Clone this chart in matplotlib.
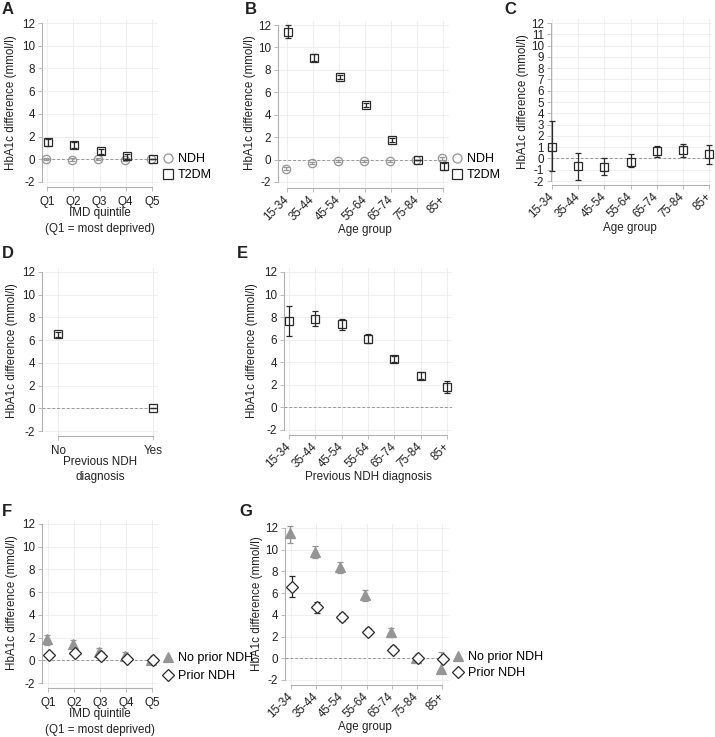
import matplotlib
matplotlib.use("Agg")
import matplotlib.pyplot as plt
from matplotlib.lines import Line2D
import numpy as np

plt.rcParams['font.family'] = ['Liberation Sans', 'DejaVu Sans']
plt.rcParams['font.size'] = 8.4

# ---------------- data ----------------
imd_q = ['Q1', 'Q2', 'Q3', 'Q4', 'Q5']
age_groups = ['15-34', '35-44', '45-54', '55-64', '65-74', '75-84', '85+']
prev_ndh = ['No', 'Yes']

# Panel A
a_ndh = [0.02, -0.02, 0.0, -0.02, 0.0]
a_ndh_lo = [-0.08, -0.12, -0.1, -0.12, 0.0]
a_ndh_hi = [0.12, 0.08, 0.1, 0.08, 0.0]
a_t2 = [1.5, 1.25, 0.7, 0.25, 0.0]
a_t2_lo = [1.2, 1.0, 0.5, 0.05, 0.0]
a_t2_hi = [1.8, 1.5, 0.9, 0.45, 0.0]

# Panel B
b_ndh = [-0.8, -0.3, -0.1, -0.1, -0.1, 0.0, 0.1]
b_ndh_lo = [-0.9, -0.4, -0.2, -0.2, -0.2, 0.0, -0.05]
b_ndh_hi = [-0.7, -0.2, 0.0, 0.0, 0.0, 0.0, 0.25]
b_t2 = [11.4, 9.1, 7.35, 4.85, 1.75, 0.0, -0.6]
b_t2_lo = [10.8, 8.8, 7.15, 4.65, 1.55, 0.0, -0.9]
b_t2_hi = [12.0, 9.4, 7.55, 5.05, 1.95, 0.0, -0.3]

# Panel C
c_val = [1.0, -0.7, -0.75, -0.3, 0.65, 0.72, 0.35]
c_lo = [-1.15, -1.9, -1.45, -0.8, 0.12, 0.15, -0.45]
c_hi = [3.3, 0.5, 0.05, 0.35, 1.1, 1.3, 1.15]

# Panel D
d_val = [6.5, 0.0]
d_lo = [6.3, 0.0]
d_hi = [6.7, 0.0]

# Panel E
e_val = [7.65, 7.85, 7.35, 6.1, 4.3, 2.8, 1.8]
e_lo = [6.35, 7.2, 6.9, 5.75, 4.05, 2.5, 1.3]
e_hi = [9.0, 8.55, 7.8, 6.5, 4.55, 3.15, 2.35]

# Panel F
f_np = [1.85, 1.4, 0.7, 0.35, 0.0]
f_np_lo = [1.35, 1.1, 0.35, 0.0, 0.0]
f_np_hi = [2.25, 1.75, 1.05, 0.7, 0.0]
f_p = [0.5, 0.6, 0.4, 0.08, 0.0]
f_p_lo = [0.3, 0.35, 0.05, -0.15, 0.0]
f_p_hi = [0.75, 0.85, 0.7, 0.3, 0.0]

# Panel G
g_np = [11.5, 9.8, 8.45, 5.85, 2.4, 0.0, -0.95]
g_np_lo = [10.6, 9.2, 7.9, 5.3, 2.0, 0.0, -1.4]
g_np_hi = [12.15, 10.3, 8.9, 6.25, 2.75, 0.0, 0.55]
g_p = [6.55, 4.7, 3.8, 2.45, 0.8, 0.05, -0.05]
g_p_lo = [5.65, 4.2, 3.45, 2.1, 0.5, -0.1, -0.3]
g_p_hi = [7.55, 5.2, 4.15, 2.8, 1.1, 0.2, 0.2]

YLABEL = 'HbA1c difference (mmol/l)'

# ---------------- layout helpers ----------------
W, H = 715, 737
fig = plt.figure(figsize=(W / 100, H / 100), dpi=100)

GRID = '#ececec'
SPINE = '#b0b0b0'
TXT = '#222222'
GRAY = '#959595'
DARK = '#2a2a2a'
FS = 8.4


def make_ax(spine_x, right_x, x0, x1, n, y12, ym2, bottom, yticks):
    xs = (x1 - x0) / (n - 1)
    ys = (ym2 - y12) / 14.0
    top = y12 - 4
    ax = fig.add_axes([spine_x / W, 1 - bottom / H, (right_x - spine_x) / W, (bottom - top) / H])
    ax.set_xlim((spine_x - x0) / xs, (n - 1) + (right_x - x1) / xs)
    ax.set_ylim(-2 - (bottom - ym2) / ys, 12 + (y12 - top) / ys)
    for s in ['top', 'right']:
        ax.spines[s].set_visible(False)
    ax.spines['left'].set_bounds(-2, 12)
    ax.spines['bottom'].set_bounds(0, n - 1)
    for s in ['left', 'bottom']:
        ax.spines[s].set_color(SPINE)
        ax.spines[s].set_linewidth(0.8)
    ax.set_yticks(yticks)
    ax.set_yticklabels([str(t) for t in yticks], fontsize=FS, color=TXT)
    ax.set_xticks(range(n))
    ax.tick_params(axis='both', length=3, width=0.6, color=SPINE, pad=2)
    ax.grid(True, color=GRID, linewidth=0.6)
    ax.set_axisbelow(True)
    ax.axhline(0, color='#999999', linestyle=(0, (3, 2)), linewidth=0.7, zorder=1)
    ax.set_facecolor('none')
    return ax


def set_xlabels(ax, labels, rotate):
    if rotate:
        ax.set_xticklabels(labels, rotation=45, ha='right', va='center',
                           rotation_mode='anchor', fontsize=FS, color=TXT)
        ax.tick_params(axis='x', pad=4)
    else:
        ax.set_xticklabels(labels, fontsize=FS, color=TXT)
        ax.tick_params(axis='x', pad=3.5)


def errpts(ax, x, v, lo, hi, marker, mfc, mec, ecol, ms=6, z=3):
    v = np.asarray(v); lo = np.asarray(lo); hi = np.asarray(hi)
    ax.errorbar(x, v, yerr=[v - lo, hi - v], fmt='none', ecolor=ecol, elinewidth=0.9,
                capsize=2.2, capthick=0.9, zorder=z, clip_on=False)
    ax.plot(x, v, linestyle='none', marker=marker, markersize=ms, markerfacecolor=mfc,
            markeredgecolor=mec, markeredgewidth=0.9, zorder=z + 0.5, clip_on=False)


def legend(ax, handles, labels, xpx, ypx, spacing):
    ax.legend(handles, labels, loc='center left', bbox_to_anchor=(xpx / W, 1 - ypx / H),
              bbox_transform=fig.transFigure, frameon=False, handlelength=0.8,
              handletextpad=0.4, borderpad=0, borderaxespad=0, labelspacing=spacing,
              fontsize=9)


def ftext(x, y, s, **kw):
    fig.text(x / W, 1 - y / H, s, color=TXT, **kw)


yt2 = list(range(-2, 13, 2))
yt1 = list(range(-2, 13, 1))
off = 0.045

h_ndh = Line2D([], [], linestyle='none', marker='o', markersize=6.5, markerfacecolor='none',
               markeredgecolor=GRAY, markeredgewidth=0.9)
h_t2 = Line2D([], [], linestyle='none', marker='s', markersize=6.5, markerfacecolor='none',
              markeredgecolor=DARK, markeredgewidth=0.9)
h_np = Line2D([], [], linestyle='none', marker='^', markersize=7, markerfacecolor=GRAY,
              markeredgecolor=GRAY, markeredgewidth=0.9)
h_p = Line2D([], [], linestyle='none', marker='D', markersize=6, markerfacecolor='none',
             markeredgecolor=DARK, markeredgewidth=0.9)

LF = 12

# ---------------- Panel A ----------------
ax = make_ax(42, 158, 47, 152, 5, 23, 182, 187, yt2)
x = np.arange(5)
errpts(ax, x - off, a_ndh, a_ndh_lo, a_ndh_hi, 'o', 'none', GRAY, GRAY)
errpts(ax, x + off, a_t2, a_t2_lo, a_t2_hi, 's', 'none', DARK, DARK, z=4)
set_xlabels(ax, imd_q, False)
legend(ax, [h_ndh, h_t2], ['NDH', 'T2DM'], 163, 167, 0.3)
ftext(11, 103, YLABEL, rotation=90, ha='center', va='center', fontsize=FS)
ftext(100, 213, 'IMD quintile', ha='center', va='center', fontsize=FS)
ftext(100, 229, '(Q1 = most deprived)', ha='center', va='center', fontsize=FS)
ftext(2, 10, 'A', fontsize=LF, fontweight='bold', ha='left', va='center')

# ---------------- Panel B ----------------
ax = make_ax(278, 449, 287, 443, 7, 25, 182, 188, yt2)
x = np.arange(7)
errpts(ax, x - off, b_ndh, b_ndh_lo, b_ndh_hi, 'o', 'none', GRAY, GRAY)
errpts(ax, x + off, b_t2, b_t2_lo, b_t2_hi, 's', 'none', DARK, DARK, z=4)
set_xlabels(ax, age_groups, True)
legend(ax, [h_ndh, h_t2], ['NDH', 'T2DM'], 452, 167, 0.3)
ftext(250, 103, YLABEL, rotation=90, ha='center', va='center', fontsize=FS)
ftext(365, 230, 'Age group', ha='center', va='center', fontsize=FS)
ftext(245, 9, 'B', fontsize=LF, fontweight='bold', ha='left', va='center')

# ---------------- Panel C ----------------
ax = make_ax(551, 712, 552, 709, 7, 23, 181, 185, yt1)
errpts(ax, x, c_val, c_lo, c_hi, 's', 'none', DARK, DARK)
set_xlabels(ax, age_groups, True)
ftext(523, 102, YLABEL, rotation=90, ha='center', va='center', fontsize=FS)
ftext(630, 228, 'Age group', ha='center', va='center', fontsize=FS)
ftext(504, 9, 'C', fontsize=LF, fontweight='bold', ha='left', va='center')

# ---------------- Panel D ----------------
ax = make_ax(42, 158, 58, 153, 2, 272, 431, 436, yt2)
errpts(ax, np.arange(2), d_val, d_lo, d_hi, 's', 'none', DARK, DARK)
set_xlabels(ax, prev_ndh, False)
ftext(12, 351, YLABEL, rotation=90, ha='center', va='center', fontsize=FS)
ftext(100, 462, 'Previous NDH', ha='center', va='center', fontsize=FS)
ftext(100, 477, 'diagnosis', ha='center', va='center', fontsize=FS)
ftext(2, 254, 'D', fontsize=LF, fontweight='bold', ha='left', va='center')

# ---------------- Panel E ----------------
ax = make_ax(284, 452, 289, 447, 7, 272, 430, 435, yt2)
errpts(ax, x, e_val, e_lo, e_hi, 's', 'none', DARK, DARK)
set_xlabels(ax, age_groups, True)
ftext(252, 351, YLABEL, rotation=90, ha='center', va='center', fontsize=FS)
ftext(368, 477, 'Previous NDH diagnosis', ha='center', va='center', fontsize=FS)
ftext(237, 254, 'E', fontsize=LF, fontweight='bold', ha='left', va='center')

# ---------------- Panel F ----------------
ax = make_ax(42, 158, 48, 152, 5, 524, 683, 688, yt2)
x5 = np.arange(5)
errpts(ax, x5 - off, f_np, f_np_lo, f_np_hi, '^', GRAY, GRAY, GRAY, ms=7)
errpts(ax, x5 + off, f_p, f_p_lo, f_p_hi, 'D', 'white', DARK, DARK, ms=6, z=4)
set_xlabels(ax, imd_q, False)
legend(ax, [h_np, h_p], ['No prior NDH', 'Prior NDH'], 163, 667, 0.5)
ftext(12, 603, YLABEL, rotation=90, ha='center', va='center', fontsize=FS)
ftext(100, 714, 'IMD quintile', ha='center', va='center', fontsize=FS)
ftext(100, 730, '(Q1 = most deprived)', ha='center', va='center', fontsize=FS)
ftext(2, 512, 'F', fontsize=LF, fontweight='bold', ha='left', va='center')

# ---------------- Panel G ----------------
ax = make_ax(285, 449, 291, 442, 7, 528, 680, 685, yt2)
errpts(ax, x - off, g_np, g_np_lo, g_np_hi, '^', GRAY, GRAY, GRAY, ms=7)
errpts(ax, x + off, g_p, g_p_lo, g_p_hi, 'D', 'white', DARK, DARK, ms=6, z=4)
set_xlabels(ax, age_groups, True)
legend(ax, [h_np, h_p], ['No prior NDH', 'Prior NDH'], 453, 665, 0.3)
ftext(257, 604, YLABEL, rotation=90, ha='center', va='center', fontsize=FS)
ftext(365, 727, 'Age group', ha='center', va='center', fontsize=FS)
ftext(239, 512, 'G', fontsize=LF, fontweight='bold', ha='left', va='center')

fig.savefig('out.png', dpi=100, facecolor='white')
